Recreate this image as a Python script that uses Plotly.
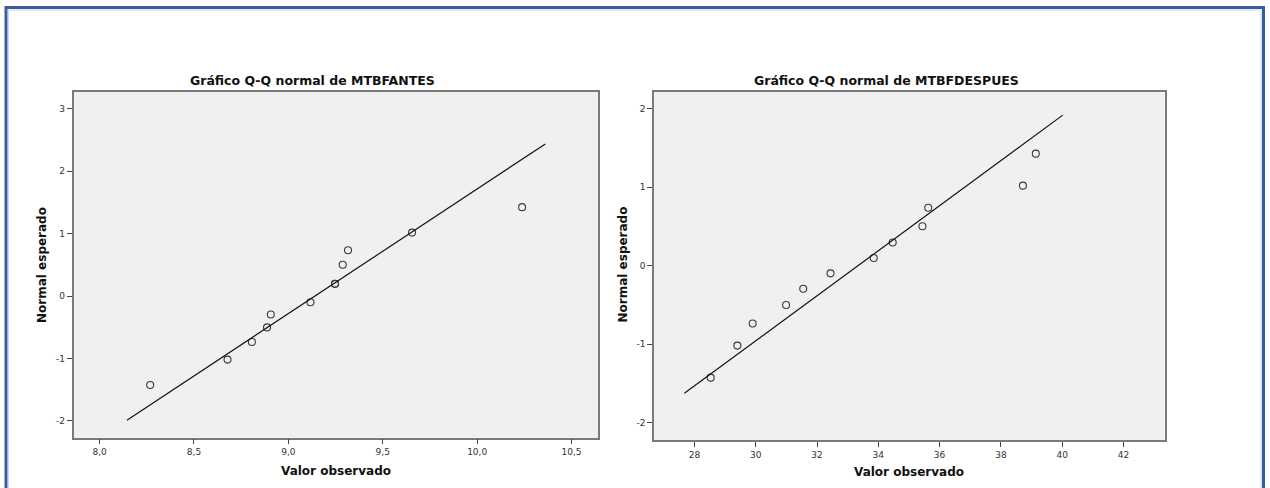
import plotly.graph_objects as go

W, H = 1270, 488

# ---- data: MTBFANTES ----
antes_obs = [8.268, 8.678, 8.807, 8.887, 8.907, 9.117, 9.247, 9.247, 9.288, 9.316, 9.655, 10.238]
antes_exp = [-1.426, -1.018, -0.736, -0.502, -0.294, -0.098, 0.196, 0.196, 0.502, 0.736, 1.018, 1.426]
antes_line_x = [8.145, 10.361]
antes_line_y = [-1.99, 2.44]

# ---- data: MTBFDESPUES ----
desp_obs = [28.53, 29.40, 29.90, 30.99, 31.55, 32.44, 33.85, 34.47, 35.44, 35.63, 38.72, 39.14]
desp_exp = [-1.426, -1.018, -0.736, -0.502, -0.294, -0.098, 0.098, 0.294, 0.502, 0.736, 1.018, 1.426]
desp_line_x = [27.67, 40.02]
desp_line_y = [-1.626, 1.916]

antes_xticks = [8.0, 8.5, 9.0, 9.5, 10.0, 10.5]
antes_xtick_text = ["8,0", "8,5", "9,0", "9,5", "10,0", "10,5"]
antes_yticks = [-2, -1, 0, 1, 2, 3]
antes_ytick_text = ["-2", "-1", "0", "1", "2", "3"]
desp_xticks = [28, 30, 32, 34, 36, 38, 40, 42]
desp_xtick_text = ["28", "30", "32", "34", "36", "38", "40", "42"]
desp_yticks = [-2, -1, 0, 1, 2]
desp_ytick_text = ["-2", "-1", "0", "1", "2"]

title_left = "Gráfico Q-Q normal de MTBFANTES"
title_right = "Gráfico Q-Q normal de MTBFDESPUES"
xlabel = "Valor observado"
ylabel = "Normal esperado"

def px(x):
    return x / W

def py(y):
    return 1 - y / H

fig = go.Figure()

marker = dict(symbol="circle-open", size=7, color="#3a3a3a", line=dict(width=1.1, color="#3a3a3a"))
fig.add_trace(go.Scatter(x=antes_obs, y=antes_exp, mode="markers", marker=marker,
                         xaxis="x", yaxis="y", showlegend=False))
fig.add_trace(go.Scatter(x=antes_line_x, y=antes_line_y, mode="lines",
                         line=dict(color="#111111", width=1.2), xaxis="x", yaxis="y", showlegend=False))
fig.add_trace(go.Scatter(x=desp_obs, y=desp_exp, mode="markers", marker=marker,
                         xaxis="x2", yaxis="y2", showlegend=False))
fig.add_trace(go.Scatter(x=desp_line_x, y=desp_line_y, mode="lines",
                         line=dict(color="#111111", width=1.2), xaxis="x2", yaxis="y2", showlegend=False))

tickfont = dict(family="DejaVu Sans", size=9, color="#333333")
axis_common = dict(showline=True, mirror=True, linecolor="#7a7a7a", linewidth=1.5,
                   ticks="outside", ticklen=5, tickwidth=1, tickcolor="#444444",
                   showgrid=False, zeroline=False, tickfont=tickfont, fixedrange=True)

fig.update_layout(
    width=W, height=H,
    margin=dict(l=0, r=0, t=0, b=0),
    paper_bgcolor="white",
    plot_bgcolor="#F0F0F0",
    xaxis=dict(domain=[px(73.5), px(598)], range=[7.862, 10.64],
               tickvals=antes_xticks, ticktext=antes_xtick_text, anchor="y", **axis_common),
    yaxis=dict(domain=[py(437.7), py(91.5)], range=[-2.27, 3.28],
               tickvals=antes_yticks, ticktext=antes_ytick_text, anchor="x", **axis_common),
    xaxis2=dict(domain=[px(654), px(1164.5)], range=[26.68, 43.34],
                tickvals=desp_xticks, ticktext=desp_xtick_text, anchor="y2", **axis_common),
    yaxis2=dict(domain=[py(440), py(91.5)], range=[-2.22, 2.217],
                tickvals=desp_yticks, ticktext=desp_ytick_text, anchor="x2", **axis_common),
)

bold = dict(family="DejaVu Sans", size=12, color="#111111")
titlefont = dict(family="DejaVu Sans", size=12.5, color="#111111")
ann = []
ann.append(dict(x=px(312.5), y=py(81), text="<b>%s</b>" % title_left, font=titlefont))
ann.append(dict(x=px(886.5), y=py(81), text="<b>%s</b>" % title_right, font=titlefont))
ann.append(dict(x=px(336), y=py(470.5), text="<b>%s</b>" % xlabel, font=bold))
ann.append(dict(x=px(909), y=py(472), text="<b>%s</b>" % xlabel, font=bold))
ann.append(dict(x=px(42), y=py(265), text="<b>%s</b>" % ylabel, font=bold, textangle=-90))
ann.append(dict(x=px(622.5), y=py(265), text="<b>%s</b>" % ylabel, font=bold, textangle=-90))
for a in ann:
    a.update(xref="paper", yref="paper", showarrow=False, xanchor="center", yanchor="middle")
fig.update_layout(annotations=ann)

# outer blue frame
fig.add_shape(type="rect", xref="paper", yref="paper",
              x0=px(6), x1=px(1263.5), y0=py(500), y1=py(7.5),
              line=dict(color="#3A5C9C", width=3), fillcolor="rgba(0,0,0,0)", layer="above")
fig.add_shape(type="rect", xref="paper", yref="paper",
              x0=px(8.5), x1=px(1261), y0=py(500), y1=py(10),
              line=dict(color="#C9D6EC", width=1), fillcolor="rgba(0,0,0,0)", layer="above")

fig.write_html("out.html")
